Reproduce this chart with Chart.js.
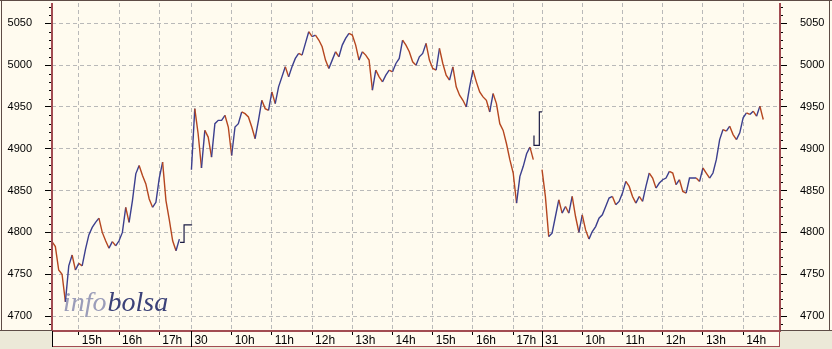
<!DOCTYPE html>
<html><head><meta charset="utf-8">
<script src="https://cdn.jsdelivr.net/npm/chart.js@4.4.0/dist/chart.umd.min.js"></script>
<style>html,body{margin:0;padding:0;background:#ece9d8;}canvas{display:block;}</style>
</head><body>
<canvas id="c" width="832" height="349"></canvas>
<script>
// ---- data ----
const sessionStarts = ["14:20", "09:00", "09:00"];   // axis start of each day
const sessionEnds   = ["17:48", "17:43", "14:55"];   // axis end of each day
const dayLabels     = ["", "30", "31"];              // label at the day boundary
const hourTicks     = [[15, 16, 17], [10, 11, 12, 13, 14, 15, 16, 17], [10, 11, 12, 13, 14]];
const barMinutes    = 5;                              // spacing of the price readings
const day1Prices = [4789,4783,4755,4750,4717,4760,4773,4755,4763,4760,4780,4797,4806,4812,4817,4800,4790,4781,4789,4784,
  4790,4800,4830,4812,4838,4870,4880,4868,4858,4840,4830,4836,4865,4884,4838,4815,4790,4778,4792];
const day2Prices = [4875,4948,4918,4877,4922,4914,4890,4930,4934,4934,4940,4926,4892,4926,4930,4944,4942,4938,4926,4912,
  4934,4958,4948,4946,4968,4954,4974,4986,4998,4986,4998,5008,5014,5012,5026,5040,5034,5036,5030,5022,
  5006,4996,5006,5016,5010,5024,5032,5038,5036,5024,5006,5016,5012,5006,4970,4994,4986,4980,4988,4994,
  4992,5002,5008,5030,5024,5016,5004,5000,5010,5014,5026,5006,4996,4994,5020,5002,4988,4982,4998,4974,
  4964,4958,4950,4974,4994,4980,4968,4962,4958,4944,4966,4954,4930,4922,4906,4887,4871,4835,4867,4879,
  4894,4902,4887];
const day3Prices = [4875,4843,4795,4799,4819,4839,4823,4831,4823,4843,4819,4800,4821,4803,4792,4801,4807,4817,4821,4831,
  4841,4843,4833,4837,4847,4861,4855,4843,4835,4843,4837,4855,4871,4865,4853,4859,4863,4865,4873,4871,
  4857,4863,4849,4847,4865,4865,4865,4861,4877,4871,4865,4871,4887,4911,4923,4921,4927,4917,4911,4919,
  4937,4943,4941,4945,4939,4951,4935];
const day1AfterTimes  = ["17:31", "17:37", "17:49"];
const day1AfterValues = [4788, 4809, 4809];
const day2AfterTimes  = ["17:31", "17:31", "17:39", "17:43"];
const day2AfterValues = [4916, 4904, 4944, 4944];
const yTickValues = [4700, 4750, 4800, 4850, 4900, 4950, 5000, 5050];
const yMin = 4683.3, yMax = 5074.3;

// ---- helpers ----
const toMin = s => { const [h, m] = s.split(":").map(Number); return h * 60 + m; };
const dayOffset = [0];
for (let d = 0; d < sessionStarts.length; d++) dayOffset.push(dayOffset[d] + toMin(sessionEnds[d]) - toMin(sessionStarts[d]));
const axisX = (d, minuteOfDay) => dayOffset[d] + minuteOfDay - toMin(sessionStarts[d]);
const xMax = dayOffset[dayOffset.length - 1];

const xTicks = [];
hourTicks.forEach((hours, d) => {
  if (d > 0) xTicks.push({ value: dayOffset[d], label: dayLabels[d], sep: true });
  hours.forEach(h => xTicks.push({ value: axisX(d, h * 60), label: h + "h", sep: false }));
});

const UP = "#3c3f8e", DOWN = "#b5461f", STEP = "#1c1c44";
const seriesFromPrices = (d, prices) => prices.map((p, i) => ({ x: axisX(d, toMin(sessionStarts[d]) + i * barMinutes), y: p }));
const seriesFromTimes = (d, times, vals) => times.map((t, i) => ({ x: axisX(d, toMin(t)), y: vals[i] }));
const mainSet = data => ({ data, borderWidth: 1.4, pointRadius: 0, tension: 0,
  segment: { borderColor: c => c.p1.parsed.y >= c.p0.parsed.y ? UP : DOWN }, borderColor: UP });
const stepSet = data => ({ data, borderWidth: 1.2, pointRadius: 0, stepped: 'before', borderColor: STEP });

const CREAM = "#fffbef", AXIS = "#a24c52", FRAME = "#5e4c46", GRID = "#b9b9b9";
const L = 52, R = 780, T = 3, B = 330;

const framePlugin = {
  id: "frame",
  beforeDraw(chart) {
    const ctx = chart.ctx;
    ctx.save();
    ctx.fillStyle = "#ece9d8"; ctx.fillRect(0, 0, 832, 349);
    ctx.fillStyle = CREAM; ctx.fillRect(0, 0, 832, 331); ctx.fillRect(L, 331, R - L, 16);
    ctx.restore();
  },
  beforeDatasetsDraw(chart) {
    const ctx = chart.ctx;
    ctx.save();
    ctx.font = "italic 28px 'Liberation Serif'";
    ctx.textBaseline = "alphabetic";
    ctx.fillStyle = "#9b9db9"; ctx.fillText("info", 63, 311);
    const w = ctx.measureText("info").width;
    ctx.fillStyle = "#3b4178"; ctx.fillText("bolsa", 63 + w + 1, 311);
    ctx.restore();
  },
  afterDraw(chart) {
    const ctx = chart.ctx, ys = chart.scales.y, xs = chart.scales.x;
    ctx.save();
    // minor ticks
    ctx.strokeStyle = "#000"; ctx.lineWidth = 1;
    ctx.beginPath();
    for (let v = 4690; v <= 5070; v += 10) {
      if (v % 50 === 0) continue;
      const y = Math.round(ys.getPixelForValue(v)) + 0.5;
      ctx.moveTo(L - 3, y); ctx.lineTo(L, y);
      ctx.moveTo(R, y); ctx.lineTo(R + 3, y);
    }
    ctx.stroke();
    // axis lines
    ctx.strokeStyle = AXIS; ctx.lineWidth = 2;
    ctx.beginPath();
    ctx.moveTo(L, T); ctx.lineTo(L, 331);
    ctx.moveTo(R, T); ctx.lineTo(R, 331);
    ctx.moveTo(L, 331); ctx.lineTo(R + 1, 331);
    ctx.stroke();
    // strip border
    ctx.lineWidth = 1;
    ctx.beginPath();
    ctx.moveTo(L, 346.5); ctx.lineTo(R, 346.5);
    ctx.moveTo(R - 0.5, 331); ctx.lineTo(R - 0.5, 347);
    ctx.stroke();
    ctx.strokeStyle = "#000";
    ctx.beginPath();
    ctx.moveTo(L + 0.5, 331); ctx.lineTo(L + 0.5, 347);
    xTicks.filter(t => t.sep).forEach(t => {
      const x = Math.round(xs.getPixelForValue(t.value)) + 0.5;
      ctx.moveTo(x, 331); ctx.lineTo(x, 347);
    });
    ctx.stroke();
    // outer frame
    ctx.strokeStyle = FRAME;
    ctx.beginPath();
    ctx.moveTo(1.5, 0); ctx.lineTo(1.5, 331);
    ctx.moveTo(829.5, 0); ctx.lineTo(829.5, 331);
    ctx.moveTo(0, 0.5); ctx.lineTo(832, 0.5);
    ctx.moveTo(0, 330.5); ctx.lineTo(L, 330.5);
    ctx.moveTo(R, 330.5); ctx.lineTo(832, 330.5);
    ctx.stroke();
    ctx.restore();
  }
};

const yScale = pos => ({
  type: "linear", position: pos, min: yMin, max: yMax,
  afterBuildTicks: s => { s.ticks = yTickValues.map(v => ({ value: v })); },
  afterFit: s => { s.width = 52; s.paddingTop = 0; s.paddingBottom = 0; },
  ticks: { padding: 13, color: "#000", font: { family: "Liberation Sans", size: 11 }, callback: v => String(v) },
  grid: { color: GRID, lineWidth: 1, tickLength: 7, tickColor: "#000", tickWidth: 1, drawOnChartArea: pos === "left" },
  border: { display: false, dash: [4, 3] }
});

new Chart(document.getElementById("c"), {
  type: "line",
  data: {
    datasets: [
      mainSet(seriesFromPrices(0, day1Prices)),
      mainSet(seriesFromPrices(1, day2Prices)),
      mainSet(seriesFromPrices(2, day3Prices)),
      stepSet(seriesFromTimes(0, day1AfterTimes, day1AfterValues)),
      stepSet(seriesFromTimes(1, day2AfterTimes, day2AfterValues))
    ]
  },
  options: {
    responsive: false, animation: false, devicePixelRatio: 1,
    layout: { padding: { top: T, left: 0, right: 0, bottom: 0 } },
    plugins: { legend: { display: false }, tooltip: { enabled: false } },
    scales: {
      x: {
        type: "linear", min: 0, max: xMax,
        afterBuildTicks: s => { s.ticks = xTicks.map(t => ({ value: t.value })); },
        afterFit: s => { s.height = 349 - B; s.paddingLeft = 0; s.paddingRight = 0; },
        ticks: { autoSkip: false, maxRotation: 0, minRotation: 0, align: "start", labelOffset: 3, padding: -2,
          color: "#000", font: { family: "Liberation Sans", size: 12 }, callback: (v, i) => xTicks[i].label },
        grid: { color: GRID, lineWidth: 1, tickLength: 5, tickColor: "#000", tickWidth: 1 },
        border: { display: false, dash: [4, 3] }
      },
      y: yScale("left"),
      y2: yScale("right")
    }
  },
  plugins: [framePlugin]
});
</script>
</body></html>
